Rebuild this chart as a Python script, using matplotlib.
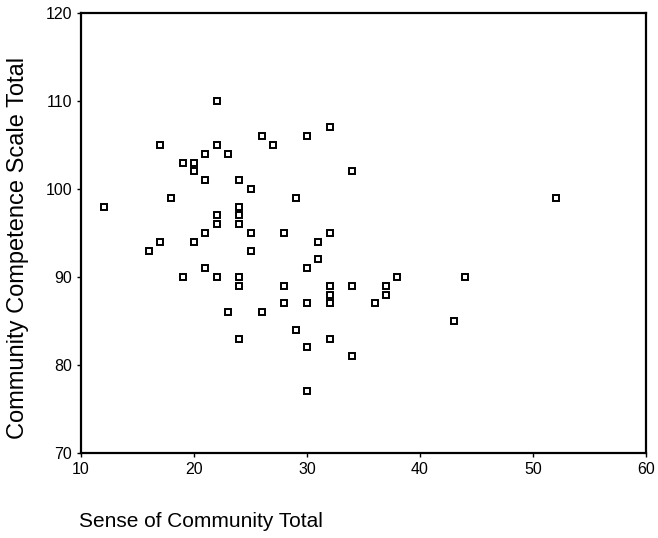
import matplotlib
matplotlib.use("Agg")
import matplotlib.pyplot as plt

# %% 데이터 (Sense of Community Total, Community Competence Scale Total)
sense_total = [12, 16, 17, 17, 18, 19, 19, 20, 20, 20,
               21, 21, 21, 21, 22, 22, 22, 22, 22, 23,
               23, 24, 24, 24, 24, 24, 24, 24, 25, 25,
               25, 26, 26, 27, 28, 28, 28, 29, 29, 30,
               30, 30, 30, 30, 31, 31, 32, 32, 32, 32,
               32, 32, 34, 34, 34, 36, 37, 37, 38, 43,
               44, 52]
competence_total = [98, 93, 94, 105, 99, 103, 90, 103, 102, 94,
                    104, 101, 95, 91, 110, 105, 97, 96, 90, 104,
                    86, 101, 98, 97, 96, 90, 89, 83, 100, 95,
                    93, 106, 86, 105, 95, 89, 87, 99, 84, 106,
                    91, 87, 82, 77, 94, 92, 107, 95, 89, 88,
                    87, 83, 102, 89, 81, 87, 89, 88, 90, 85,
                    90, 99]

x_ticks = [10, 20, 30, 40, 50, 60]
y_ticks = [70, 80, 90, 100, 110, 120]

# %% 그래프
plt.rcParams["font.family"] = ["Liberation Sans", "DejaVu Sans"]

fig = plt.figure(figsize=(6.58, 5.38), dpi=100)
ax = fig.add_axes([81 / 658, 1 - 453 / 538, 565 / 658, 440 / 538])

ax.plot(sense_total, competence_total, linestyle="none", marker="s",
        markersize=4.5, markerfacecolor="white", markeredgecolor="black",
        markeredgewidth=1.4)

ax.set_xlim(10, 60)
ax.set_ylim(70, 120)
ax.set_xticks(x_ticks)
ax.set_yticks(y_ticks)
ax.tick_params(direction="out", length=3, width=1, labelsize=11.5, pad=3.5,
               colors="black")

for s in ax.spines.values():
    s.set_linewidth(1.6)

# 축 레이블 (원본처럼 위치 지정)
fig.text(18 / 658, 1 - 248 / 538, "Community Competence Scale Total",
         rotation=90, ha="center", va="center", fontsize=17)
fig.text(79 / 658, 1 - 527 / 538, "Sense of Community Total",
         ha="left", va="baseline", fontsize=15)

fig.savefig("out.png", dpi=100)
